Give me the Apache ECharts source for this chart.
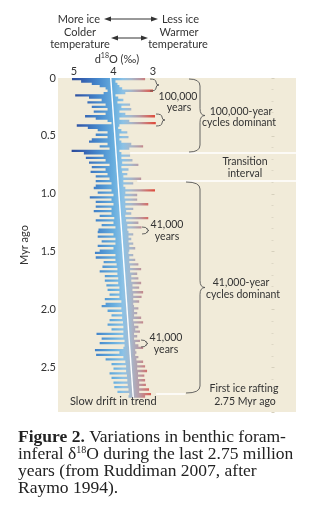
<!DOCTYPE html>
<html><head><meta charset="utf-8">
<script src="https://cdn.jsdelivr.net/npm/echarts@6/dist/echarts.min.js"></script>
<style>html,body{margin:0;padding:0;background:#fff;}#c{width:322px;height:509px;}</style>
</head><body><div id="c"></div>
<script>
// ---- data: for each 20-kyr slice (start age, Myr ago) the extent of the d18O record (per mil) ----
const sliceAges = [
0.00,0.02,0.04,0.06,0.08,0.10,0.12,0.14,0.16,0.18,
0.20,0.22,0.24,0.26,0.28,0.30,0.32,0.34,0.36,0.38,
0.40,0.42,0.44,0.46,0.48,0.50,0.52,0.54,0.56,0.58,
0.60,0.62,0.64,0.66,0.68,0.70,0.72,0.74,0.76,0.78,
0.80,0.82,0.84,0.86,0.88,0.90,0.92,0.94,0.96,0.98,
1.00,1.02,1.04,1.06,1.08,1.10,1.12,1.14,1.16,1.18,
1.20,1.22,1.24,1.26,1.28,1.30,1.32,1.34,1.36,1.38,
1.40,1.42,1.44,1.46,1.48,1.50,1.52,1.54,1.56,1.58,
1.60,1.62,1.64,1.66,1.68,1.70,1.72,1.74,1.76,1.78,
1.80,1.82,1.84,1.86,1.88,1.90,1.92,1.94,1.96,1.98,
2.00,2.02,2.04,2.06,2.08,2.10,2.12,2.14,2.16,2.18,
2.20,2.22,2.24,2.26,2.28,2.30,2.32,2.34,2.36,2.38,
2.40,2.42,2.44,2.46,2.48,2.50,2.52,2.54,2.56,2.58,
2.60,2.62,2.64,2.66,2.68,2.70,2.72,2.74];
const recordEndAge = 2.76;
// heaviest (most ice, left) value in each slice
const d18OMax = [
5.05,4.82,4.55,4.35,4.20,4.15,4.25,4.97,4.62,4.30,
4.66,4.20,4.55,4.15,4.50,4.20,4.72,4.45,4.15,4.05,
4.93,4.65,4.40,4.15,4.45,4.15,4.55,4.62,4.15,4.35,
4.10,5.06,4.75,4.25,4.70,4.20,4.62,4.10,4.55,4.20,
4.58,4.15,4.45,4.10,4.45,4.05,4.45,4.50,4.05,4.40,
4.00,4.60,4.05,4.45,4.00,4.45,4.05,4.50,4.05,4.35,
3.98,4.45,4.00,4.30,3.95,4.38,4.40,4.00,4.40,3.95,
4.30,3.95,4.40,4.00,4.35,4.47,3.95,4.45,3.95,4.25,
3.92,4.28,3.90,4.35,3.90,4.22,3.88,4.22,3.88,4.18,
3.85,4.15,3.85,4.10,3.85,4.22,3.80,4.20,4.30,3.80,
4.15,3.78,4.05,3.78,4.10,3.76,4.15,3.75,4.05,3.75,
4.43,3.75,4.30,3.72,4.35,3.72,3.75,4.47,3.85,4.44,
3.75,4.20,3.70,4.05,3.68,4.00,3.68,4.10,3.66,4.05,
3.65,4.00,3.64,3.98,3.62,3.90,3.60,3.62];
// lightest (least ice, right) value in each slice
const d18OMin = [
3.20,3.95,3.90,3.85,3.78,3.00,3.70,3.95,3.88,3.75,
3.90,3.58,3.80,3.55,3.85,3.70,2.95,3.85,3.60,2.93,
3.85,3.88,3.80,3.65,3.85,3.62,3.85,3.80,3.55,3.25,
3.60,3.85,3.80,3.58,3.80,3.52,3.78,3.37,3.80,3.62,
3.78,3.65,3.75,3.30,3.75,3.50,3.75,3.70,2.95,3.70,
3.40,3.72,3.40,3.70,3.12,3.70,3.50,3.68,3.55,3.70,
3.12,3.68,3.37,3.65,3.29,3.65,3.62,3.50,3.62,3.55,
3.62,3.50,3.60,3.45,3.60,3.62,3.50,3.60,3.45,3.60,
3.37,3.58,3.30,3.58,3.40,3.55,3.37,3.55,3.30,3.52,
3.35,3.52,3.25,3.50,3.29,3.50,3.35,3.50,3.48,3.37,
3.48,3.40,3.48,3.30,3.50,3.25,3.48,3.37,3.45,3.33,
3.48,3.40,3.48,3.33,3.45,3.37,3.25,3.45,3.42,3.45,
3.37,3.42,3.25,3.40,3.20,3.40,3.15,3.38,3.22,3.38,
3.20,3.35,3.18,3.35,3.10,3.35,3.05,3.20];
const trendAges = [0, 2.76];
const trendValues = [4.07, 3.50];
const xTickValues = [5, 4, 3];
const yTickLabels = ['0', '0.5', '1.0', '1.5', '2.0', '2.5'];
const transitionAges = [0.648, 0.889];
const iceRaftingAge = 2.73;

const SANS = 'Lato';
const TXT = '#333';
const chart = echarts.init(document.getElementById('c'), null, {renderer: 'canvas'});

const stops = [
  {offset: 0.00, color: '#2b4795'},
  {offset: 0.14, color: '#3560b0'},
  {offset: 0.32, color: '#4688cc'},
  {offset: 0.50, color: '#68aede'},
  {offset: 0.61, color: '#8cc2e6'},
  {offset: 0.70, color: '#a6b8cc'},
  {offset: 0.80, color: '#b99aa4'},
  {offset: 0.89, color: '#d2706a'},
  {offset: 1.00, color: '#e0402e'}
];

const braceStyle = {stroke: '#555', fill: null, lineWidth: 0.9};
function brace(x0, xm, xt, y1, y2, r) {
  const ym = (y1 + y2) / 2;
  const q = (ax, ay, cx, cy, bx, by) => ({type: 'bezierCurve', z: 100, shape: {x1: ax, y1: ay, cpx1: cx, cpy1: cy, x2: bx, y2: by}, style: braceStyle});
  const l = (ax, ay, bx, by) => ({type: 'line', z: 100, shape: {x1: ax, y1: ay, x2: bx, y2: by}, style: braceStyle});
  return [
    q(x0, y1, xm, y1, xm, y1 + r),
    l(xm, y1 + r, xm, ym - r),
    q(xm, ym - r, xm, ym, xt, ym),
    q(xt, ym, xm, ym, xm, ym + r),
    l(xm, ym + r, xm, y2 - r),
    q(xm, y2 - r, xm, y2, x0, y2)
  ];
}
function txt(x, y, s, align, size, extra) {
  return {type: 'text', z: 100, style: Object.assign({
    text: s, x: x, y: y, align: align || 'center', verticalAlign: 'middle',
    fontFamily: SANS, fontSize: size || 10.5, fill: TXT}, extra || {})};
}
function arrow(x1, x2, y) {
  return [
    {type: 'line', z: 100, shape: {x1: x1 + 3, y1: y, x2: x2 - 3, y2: y}, style: {stroke: '#333', lineWidth: 1}},
    {type: 'polygon', z: 100, shape: {points: [[x1, y], [x1 + 7, y - 2.5], [x1 + 7, y + 2.5]]}, style: {fill: '#333'}},
    {type: 'polygon', z: 100, shape: {points: [[x2, y], [x2 - 7, y - 2.5], [x2 - 7, y + 2.5]]}, style: {fill: '#333'}}
  ];
}
const captionFont = {fontFamily: 'Liberation Serif', fontSize: 17.5, fill: '#222', verticalAlign: 'middle', align: 'left'};

const graphics = [
  txt(100, 19, 'More ice', 'right', 11),
  txt(162, 19, 'Less ice', 'left', 11),
  ...arrow(104, 158, 19),
  txt(80, 32, 'Colder', 'center', 11),
  txt(80, 44, 'temperature', 'center', 11),
  txt(179, 32, 'Warmer', 'center', 11),
  txt(178, 44, 'temperature', 'center', 11),
  ...arrow(111, 148, 38),
  txt(117, 59, 'd{s|18}O (‰)', 'center', 11, {rich: {s: {fontSize: 7, padding: [0, 0, 6, 0], fontFamily: SANS, fill: TXT}}}),
  txt(178, 97, '100,000'), txt(179, 108, 'years'),
  txt(241, 112, '100,000-year'), txt(239, 123, 'cycles dominant'),
  txt(245, 162, 'Transition'), txt(245, 174, 'interval'),
  txt(167, 225, '41,000'), txt(167, 237, 'years'),
  txt(241, 283, '41,000-year'), txt(243, 295, 'cycles dominant'),
  txt(166, 338, '41,000'), txt(166, 350, 'years'),
  txt(244, 389, 'First ice rafting'), txt(245, 402, '2.75 Myr ago'),
  txt(70, 401, 'Slow drift in trend', 'left', 11),
  ...brace(189, 200, 205, 79, 152, 7),
  ...brace(186, 200, 205, 182, 393, 7),
  ...brace(150, 156, 159, 79, 91, 3),
  ...brace(156, 162, 165, 114, 126, 3),
  ...brace(142, 147, 149, 227, 234, 2),
  ...brace(141, 146, 148, 340, 347, 2),
  {type: 'text', z: 100, style: Object.assign({x: 18, y: 437, text: '{b|Figure 2.} Variations in benthic foram-',
    rich: {b: {fontWeight: 'bold', fontFamily: 'Liberation Serif', fontSize: 17.5, fill: '#222'}}}, captionFont)},
  {type: 'text', z: 100, style: Object.assign({x: 18, y: 454, text: 'inferal δ{s|18}O during the last 2.75 million',
    rich: {s: {fontFamily: 'Liberation Serif', fontSize: 10, fill: '#222', padding: [0, 0, 8, 0]}}}, captionFont)},
  {type: 'text', z: 100, style: Object.assign({x: 18, y: 471, text: 'years (from Ruddiman 2007, after'}, captionFont)},
  {type: 'text', z: 100, style: Object.assign({x: 18, y: 488, text: 'Raymo 1994).'}, captionFont)}
];

const sliceData = sliceAges.map((a, i) => [d18OMax[i], d18OMin[i], a]);
const trendData = trendAges.map((a, i) => [trendValues[i], a]);
const whiteLine = {color: '#fff', width: 1.5, type: 'solid'};

chart.setOption({
  animation: false,
  backgroundColor: '#fff',
  grid: {left: 58, right: 26, top: 78, bottom: 97, show: true, backgroundColor: '#f1ebd9', borderWidth: 0},
  xAxis: {
    type: 'value', position: 'top', inverse: true, min: -0.62, max: 5.405,
    axisLine: {show: false}, axisTick: {show: false}, splitLine: {show: false},
    axisLabel: {customValues: xTickValues, margin: 1, color: TXT, fontFamily: SANS, fontSize: 11}
  },
  yAxis: {
    type: 'value', inverse: true, min: 0, max: 2.884, interval: 0.5,
    name: 'Myr ago', nameLocation: 'middle', nameGap: 28, nameRotate: 90,
    nameTextStyle: {color: TXT, fontFamily: SANS, fontSize: 11},
    axisLine: {show: false},
    axisTick: {show: true, inside: true, length: 3, lineStyle: {color: '#d6d0bd'}},
    minorTick: {show: true, splitNumber: 5, length: 2, lineStyle: {color: '#ddd7c5'}},
    splitLine: {show: false},
    axisLabel: {showMaxLabel: false, margin: 2, color: TXT, fontFamily: SANS, fontSize: 11,
      formatter: v => yTickLabels[Math.round(v / 0.5)] || ''}
  },
  graphic: graphics,
  series: [
    {
      type: 'custom', data: sliceData, encode: {x: [0, 1], y: 2}, z: 2, silent: true,
      renderItem: function (params, api) {
        if (params.dataIndex !== 0) return null;
        const n = sliceAges.length;
        const end = i => (i + 1 < n ? sliceAges[i + 1] : recordEndAge);
        const pts = [];
        for (let i = 0; i < n; i++) {
          pts.push(api.coord([d18OMax[i], sliceAges[i]]), api.coord([d18OMax[i], end(i)]));
        }
        for (let i = n - 1; i >= 0; i--) {
          pts.push(api.coord([d18OMin[i], end(i)]), api.coord([d18OMin[i], sliceAges[i]]));
        }
        const xa = api.coord([5.1, 0])[0], xb = api.coord([2.9, 0])[0];
        return {type: 'polygon', shape: {points: pts},
          style: {fill: new echarts.graphic.LinearGradient(xa, 0, xb, 0, stops, true), stroke: null}};
      }
    },
    {
      type: 'line', data: trendData, z: 5, showSymbol: false, silent: true,
      lineStyle: {color: '#fff', width: 1.4},
      markLine: {
        silent: true, symbol: 'none', label: {show: false}, lineStyle: whiteLine,
        data: [
          [{coord: [3.58, transitionAges[0]]}, {coord: [-0.62, transitionAges[0]]}],
          [{coord: [3.40, transitionAges[1]]}, {coord: [-0.62, transitionAges[1]]}],
          [{coord: [2.92, iceRaftingAge]}, {coord: [2.18, iceRaftingAge]}]
        ]
      }
    }
  ]
});
</script></body></html>
